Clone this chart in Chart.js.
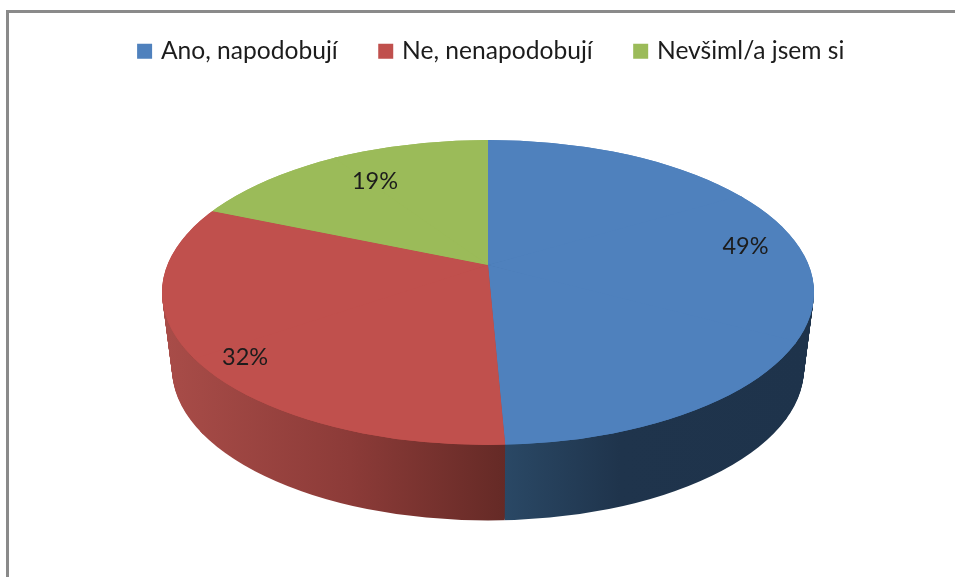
<!DOCTYPE html>
<html>
<head>
<meta charset="utf-8">
<script src="https://cdn.jsdelivr.net/npm/chart.js@4"></script>
<style>
html, body { margin: 0; padding: 0; background: #fff; overflow: hidden; }
#frame { position: absolute; left: 6px; top: 10px; width: 960px; height: 580px; border: 3px solid #8a8a8a; box-sizing: border-box; }
#wrap { position: absolute; left: 0; top: 0; width: 955px; height: 577px; }
</style>
</head>
<body>
<div id="frame"></div>
<div id="wrap"><canvas id="mycanvas" width="955" height="577"></canvas></div>
<script>
var categories = ['Ano, napodobují', 'Ne, nenapodobují', 'Nevšiml/a jsem si'];
var values = [49.3, 32.1, 18.6];
var percentLabels = ['49%', '32%', '19%'];
var colors = ['#4f81bd', '#c0504d', '#9bbb59'];

// wall shading, left to right on screen: [x, colour]
var wallShades = [
	[[505, '#2a4865'], [620, '#1f344c'], [810, '#1e334b']],
	[[168, '#a84c48'], [350, '#8c3b38'], [505, '#652a26']],
	[[160, '#5f7336'], [490, '#5f7336']]
];
var labelNudge = [[2, -16], [-8, 17], [10, 2]];

// the pie is tilted with some perspective, so rim and hub are not concentric
var persp = 0.18;
var depth = 76;
function level(t) {
	var rx = 326 - 10 * t, ry = 152.5 - 0.5 * t;
	return {
		cx: 488, cy: 292.5 + depth * t, rx: rx, ry: ry,
		hx: 488, hy: 265 + depth * t,
		a: rx * Math.sqrt(1 - persp * persp),
		b: ry * (1 - persp * persp)
	};
}
function rim(l, ang) {
	var d = 1 - persp * Math.sin(ang);
	return { x: l.a * Math.cos(ang) / d, y: l.b * Math.sin(ang) / d };
}

// draws one piece of a slice through its arc element, warped so its two edges land on the rim
function drawPiece(ctx, el, l, shade, s, e, overlap) {
	var ps = rim(l, s), pe = rim(l, e);
	var det = Math.sin(e - s);
	var k = 1.3 / el.outerRadius;
	var m11 = k * (ps.x * Math.sin(e) - pe.x * Math.sin(s)) / det;
	var m12 = k * (pe.x * Math.cos(s) - ps.x * Math.cos(e)) / det;
	var m21 = k * (ps.y * Math.sin(e) - pe.y * Math.sin(s)) / det;
	var m22 = k * (pe.y * Math.cos(s) - ps.y * Math.cos(e)) / det;
	var keep = el.options;
	if (shade) {
		// gradient in element space that comes out horizontal on screen
		var n = m11 * m11 + m12 * m12;
		var first = shade[0][0], last = shade[shade.length - 1][0];
		var g = ctx.createLinearGradient(
			el.x + (first - l.hx) * m11 / n, el.y + (first - l.hx) * m12 / n,
			el.x + (last - l.hx) * m11 / n, el.y + (last - l.hx) * m12 / n);
		shade.forEach(function(c) {
			g.addColorStop((c[0] - first) / (last - first), c[1]);
		});
		el.options = Object.assign({}, keep, { backgroundColor: g });
	}
	var a0 = el.startAngle, a1 = el.endAngle, c0 = el.circumference;
	el.startAngle = s;
	el.endAngle = e + overlap;
	el.circumference = e + overlap - s;
	ctx.save();
	ctx.beginPath();
	ctx.ellipse(l.cx, l.cy, l.rx, l.ry, 0, 0, Math.PI * 2);
	ctx.clip();
	ctx.transform(m11, m21, m12, m22, l.hx, l.hy);
	ctx.translate(-el.x, -el.y);
	el.draw(ctx);
	ctx.restore();
	el.startAngle = a0;
	el.endAngle = a1;
	el.circumference = c0;
	el.options = keep;
}

// wide slices go wrong under one strong skew, so they are cut into pieces
function drawSlice(ctx, el, l, shade) {
	var span = el.endAngle - el.startAngle;
	var pieces = Math.ceil(span / (Math.PI / 3));
	for (var p = 0; p < pieces; p++) {
		var s = el.startAngle + span * p / pieces;
		var e = el.startAngle + span * (p + 1) / pieces;
		drawPiece(ctx, el, l, shade, s, e, p < pieces - 1 ? 0.02 : 0);
	}
}

var pie3d = {
	id: 'pie3d',
	beforeDatasetDraw: function(chart, args) {
		var ctx = chart.ctx;
		var arcs = args.meta.data;
		for (var y = depth; y > 0; y--) {
			var low = level(y / depth);
			arcs.forEach(function(el, i) { drawSlice(ctx, el, low, wallShades[i]); });
		}
		var top = level(0);
		// second pass hides the hairlines between pieces
		arcs.forEach(function(el) { drawSlice(ctx, el, top, null); });
		arcs.forEach(function(el) { drawSlice(ctx, el, top, null); });
		return false;
	},
	afterDatasetsDraw: function(chart) {
		var ctx = chart.ctx;
		var top = level(0);
		ctx.save();
		ctx.font = '23.5px Lato';
		ctx.fillStyle = '#1c1c1c';
		ctx.textAlign = 'center';
		ctx.textBaseline = 'middle';
		chart.getDatasetMeta(0).data.forEach(function(el, i) {
			var p = rim(top, (el.startAngle + el.endAngle) / 2);
			ctx.fillText(percentLabels[i], top.hx + p.x * 0.8 + labelNudge[i][0], top.hy + p.y * 0.8 + labelNudge[i][1]);
		});
		ctx.restore();
	}
};

var ctx = document.getElementById('mycanvas');
var pieChart = new Chart(ctx, {
	type: 'pie',
	data: {
		labels: categories,
		datasets: [{ data: values, backgroundColor: colors, borderWidth: 0 }]
	},
	options: {
		responsive: false,
		animation: false,
		layout: { padding: { top: -5, left: 30 } },
		plugins: {
			tooltip: { enabled: false },
			legend: {
				display: true,
				position: 'top',
				labels: {
					boxWidth: 8,
					boxHeight: 8,
					padding: 44,
					color: '#1c1c1c',
					font: { family: 'Lato', size: 24.6 },
					generateLabels: function(chart) {
						return Chart.overrides.pie.plugins.legend.labels.generateLabels(chart).map(function(item) {
							item.lineWidth = 7;
							item.strokeStyle = item.fillStyle;
							return item;
						});
					}
				}
			}
		}
	},
	plugins: [pie3d]
});
</script>
</body>
</html>
